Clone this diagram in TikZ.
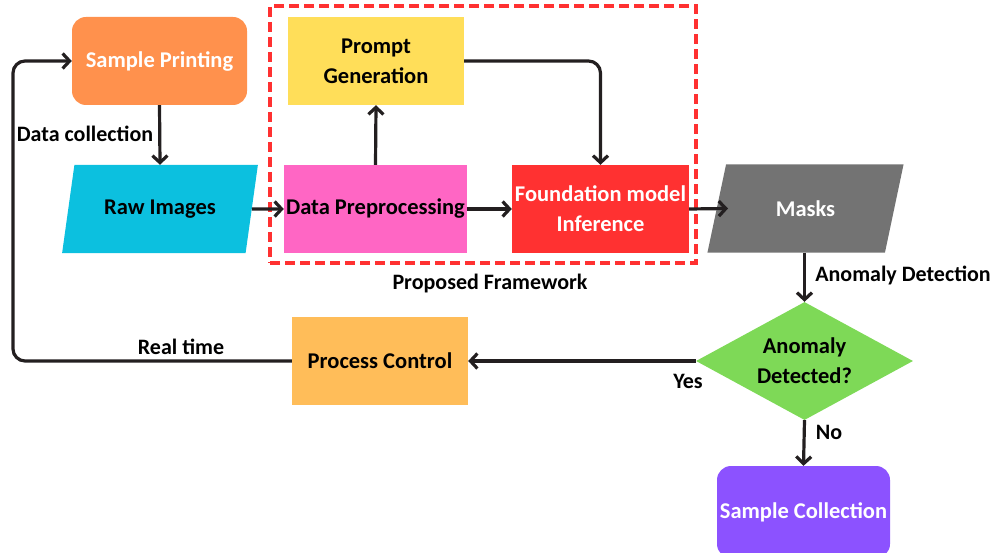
\documentclass[tikz,border=0pt]{standalone}
\usepackage{fontspec}
\setmainfont{Carlito}
\usetikzlibrary{arrows.meta,shapes.geometric}
\definecolor{cOrange}{HTML}{FF914D}
\definecolor{cCyan}{HTML}{0CC0DF}
\definecolor{cPink}{HTML}{FF66C4}
\definecolor{cYellow}{HTML}{FFDE59}
\definecolor{cRed}{HTML}{FF3131}
\definecolor{cGray}{HTML}{737373}
\definecolor{cGreen}{HTML}{7ED957}
\definecolor{cAmber}{HTML}{FFBD59}
\definecolor{cPurple}{HTML}{8C52FF}
\definecolor{cLine}{HTML}{231F20}
\tikzset{
  base/.style={font=\bfseries\fontsize{22.5}{30}\selectfont, align=center, inner sep=0pt},
  box/.style={base, minimum width=#1, minimum height=88pt},
  rbox/.style={box=#1, rounded corners=14pt},
  para/.style={base, trapezium, trapezium left angle=66.5, trapezium right angle=113.5,
    trapezium stretches=true, minimum width=196pt, minimum height=88pt},
  link/.style={line width=3.2pt, draw=cLine, rounded corners=12pt,
    -{Straight Barb[length=7pt,width=15pt,line width=3.2pt]}},
  lbl/.style={font=\bfseries\fontsize{22}{26}\selectfont, text=black, inner sep=0pt},
}
\begin{document}
\begin{tikzpicture}[x=1pt,y=-1pt]
\useasboundingbox (0,0) rectangle (1000,553);
\clip (0,0) rectangle (1000,553);

% proposed framework frame
\node[draw=cRed, line width=3.4pt, dash pattern=on 10pt off 5pt,
      minimum width=426pt, minimum height=257pt, inner sep=0pt] (frame) at (483,134.5) {};
\node[lbl] (fw) at (490,284) {Proposed Framework};

% boxes
\node[rbox=175pt, fill=cOrange, text=white] (print) at (159.5,61) {Sample Printing};
\node[para, fill=cCyan, text=black] (raw) at (160,209) {Raw Images};
\node[box=183pt, fill=cPink, text=black] (prep) at (375.5,209) {Data Preprocessing};
\node[box=176pt, fill=cYellow, text=black] (prompt) at (376,61) {Prompt\\Generation};
\node[box=177pt, fill=cRed, text=white] (found) at (600.5,209) {Foundation model\\Inference};
\node[para, fill=cGray, text=white, minimum width=197pt] (masks) at (805.5,208.5) {Masks};
\node[base, diamond, fill=cGreen, text=black, minimum width=217pt, minimum height=118pt,
      aspect=1.84] (dec) at (804.5,361) {Anomaly\\Detected?};
\node[box=176pt, fill=cAmber, text=black] (ctrl) at (380,361) {Process Control};
\node[rbox=173pt, fill=cPurple, text=white, minimum height=92pt] (coll) at (803.5,512) {Sample Collection};

% connectors
\draw[link] (print.south) -- (raw.north);
\node[lbl, anchor=center] (dc) at (85,134) {Data collection};
\draw[link] (raw.east) -- (prep.west);
\draw[link] (prep.north) -- (prompt.south);
\draw[link] (prompt.east) -| (found.north);
\draw[link] (prep.east) -- (found.west);
\draw[link] (found.east) -- (masks.east -| 728,0);
\draw[link] (masks.south -| dec.north) -- (dec.north);
\node[lbl] (ad) at (903,275) {Anomaly Detection};
\draw[link] (dec.west) -- (ctrl.east);
\node[lbl] (yes) at (688,381) {Yes};
\draw[link] (ctrl.west) -- (13,361) -- (13,61) -- (print.west);
\node[lbl] (rt) at (181,347) {Real time};
\draw[link] (dec.south) -- (coll.north);
\node[lbl] (no) at (829,432) {No};
\end{tikzpicture}
\end{document}
